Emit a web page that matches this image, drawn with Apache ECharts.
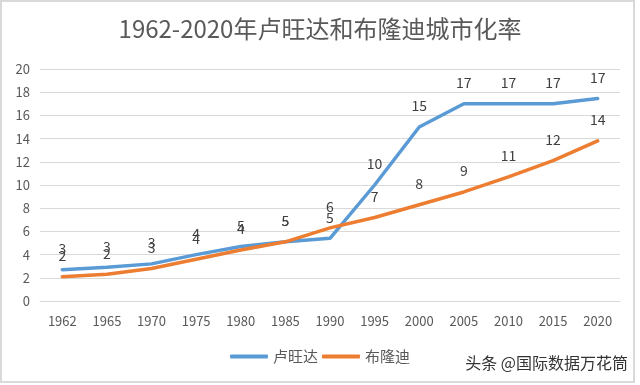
<!DOCTYPE html>
<html>
<head>
<meta charset="utf-8">
<script src="https://cdn.jsdelivr.net/npm/echarts@6/dist/echarts.min.js"></script>
<style>
html,body{margin:0;padding:0;background:#fff;}
#main{width:640px;height:385px;}
</style>
</head>
<body>
<div id="main"></div>
<script>
var categories = ['1962','1965','1970','1975','1980','1985','1990','1995','2000','2005','2010','2015','2020'];
var rwanda = [2.7, 2.9, 3.2, 4.0, 4.7, 5.1, 5.4, 10.0, 15.0, 17.0, 17.0, 17.0, 17.45];
var burundi = [2.1, 2.3, 2.8, 3.6, 4.4, 5.1, 6.3, 7.2, 8.3, 9.4, 10.7, 12.1, 13.8];
var yTicks = [0, 20, 2];
var titleText = '1962-2020年卢旺达和布隆迪城市化率';
var seriesNames = ['卢旺达', '布隆迪'];
var watermark = '头条 @国际数据万花筒';

var chart = echarts.init(document.getElementById('main'), null, {renderer: 'canvas'});
var FONT = '"Noto Sans CJK SC", "Open Sans", sans-serif';
var labelCfg = {
  show: true, position: 'top', distance: 14,
  color: '#404040', fontSize: 14, fontFamily: FONT,
  formatter: function(p){ return Math.round(p.value); }
};
chart.setOption({
  animation: false,
  backgroundColor: '#fff',
  title: {
    text: titleText, left: 'center', top: 12,
    textStyle: {color: '#595959', fontSize: 24, fontWeight: 'normal', fontFamily: FONT}
  },
  legend: {
    data: seriesNames, bottom: 16, left: 'center',
    itemWidth: 38, itemHeight: 4, itemGap: 4,
    icon: 'roundRect',
    textStyle: {color: '#595959', fontSize: 15, fontFamily: FONT}
  },
  grid: {left: 40, right: 20, top: 69, bottom: 84},
  xAxis: {
    type: 'category', data: categories, boundaryGap: true,
    axisLine: {lineStyle: {color: '#d9d9d9'}},
    axisTick: {show: false},
    axisLabel: {color: '#595959', fontSize: 13, fontFamily: FONT, margin: 14}
  },
  yAxis: {
    type: 'value', min: yTicks[0], max: yTicks[1], interval: yTicks[2],
    axisLine: {show: false}, axisTick: {show: false},
    splitLine: {lineStyle: {color: '#d9d9d9'}},
    axisLabel: {color: '#595959', fontSize: 13, fontFamily: FONT, margin: 10}
  },
  series: [
    {name: seriesNames[0], type: 'line', data: rwanda, symbol: 'circle', symbolSize: 0, showSymbol: true, smooth: false,
     lineStyle: {color: '#5B9BD5', width: 3.5, cap: 'round'}, itemStyle: {color: '#5B9BD5'},
     label: labelCfg},
    {name: seriesNames[1], type: 'line', data: burundi, symbol: 'circle', symbolSize: 0, showSymbol: true, smooth: false,
     lineStyle: {color: '#ED7D31', width: 3.5, cap: 'round'}, itemStyle: {color: '#ED7D31'},
     label: labelCfg}
  ],
  graphic: [
    {type: 'rect', shape: {x: 1, y: 1, width: 633, height: 381},
     style: {fill: 'none', stroke: '#d9d9d9', lineWidth: 2}, silent: true},
    {type: 'text', right: 12, top: 355,
     style: {text: watermark, fill: '#333', fontSize: 16, fontFamily: FONT}}
  ]
});
</script>
</body>
</html>
